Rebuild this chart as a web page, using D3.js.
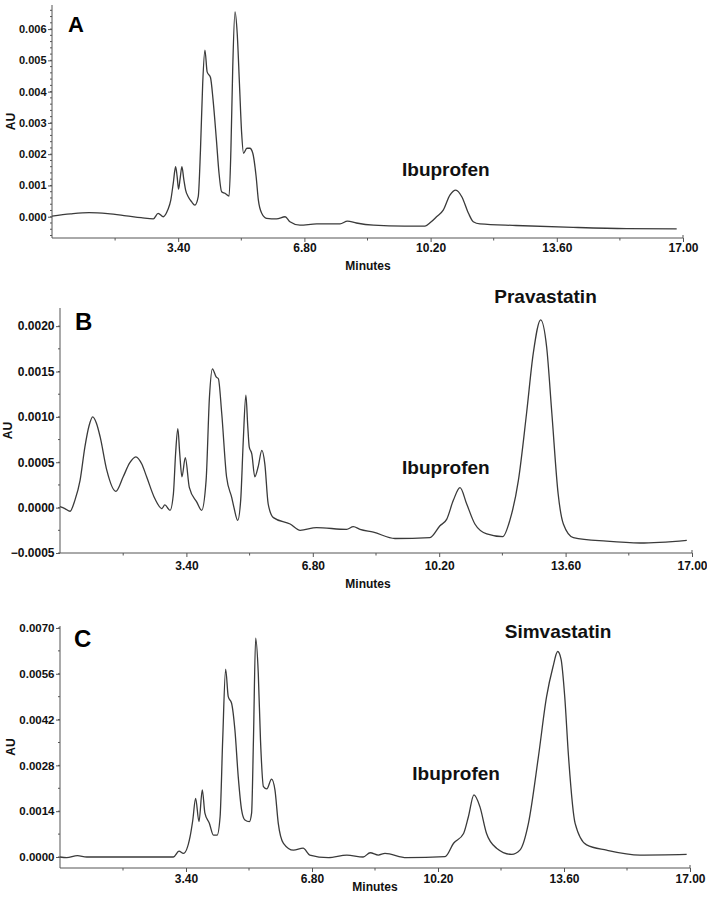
<!DOCTYPE html>
<html><head><meta charset="utf-8">
<script src="https://cdn.jsdelivr.net/npm/d3@7"></script>
<style>
body{margin:0;background:#fff;}
svg{display:block;font-family:"Liberation Sans",Arial,Helvetica,sans-serif;}
</style>
</head><body>
<svg id="chart" width="707" height="900"></svg>
<script>
// ---------- data ----------
const xTickValues = [3.4, 6.8, 10.2, 13.6, 17.0];

const minutesA = [0.0,0.5,1.0,1.5,2.0,2.4,2.73,2.86,3.0,3.12,3.2,3.27,3.33,3.37,3.41,3.45,3.5,3.55,3.6,3.67,3.76,3.85,3.94,4.0,4.06,4.12,4.18,4.27,4.34,4.43,4.5,4.57,4.66,4.77,4.82,4.87,4.93,4.99,5.05,5.11,5.16,5.25,5.33,5.41,5.5,5.56,5.65,5.78,6.05,6.28,6.41,6.68,7.13,7.76,7.96,8.2,8.66,9.5,10.05,10.2,10.36,10.54,10.72,10.88,11.04,11.22,11.35,11.53,12.5,14.04,15.48,16.83];
const auA = [0.00002,0.00009,0.00013,0.0001,0.00003,-0.00003,-0.00007,0.00011,0.0,0.00022,0.00053,0.0011,0.0016,0.0013,0.00088,0.0012,0.0016,0.0012,0.00085,0.00064,0.00048,0.00037,0.00064,0.00213,0.00426,0.00533,0.00463,0.00445,0.00373,0.00245,0.00139,0.0008,0.00075,0.00066,0.00213,0.0048,0.00655,0.00586,0.00426,0.00266,0.00203,0.00219,0.00219,0.00203,0.00128,0.00053,0.00011,-0.00005,-0.00007,0.0,-0.00016,-0.00027,-0.00023,-0.00023,-0.00014,-0.0002,-0.00027,-0.0003,-0.0003,-0.00018,0.0,0.00021,0.00069,0.00085,0.00064,0.00011,-0.00016,-0.00023,-0.00028,-0.00034,-0.00038,-0.00039];
const yTicksA = [0,0.001,0.002,0.003,0.004,0.005,0.006];
const annotA = [{text:"Ibuprofen", t:10.61, v:0.0013}];

const minutesB = [0,0.13,0.27,0.4,0.54,0.67,0.78,0.88,0.98,1.08,1.26,1.5,1.7,1.87,2.04,2.2,2.33,2.55,2.74,2.82,2.96,3.05,3.11,3.17,3.22,3.28,3.37,3.48,3.68,3.81,3.93,4.02,4.1,4.2,4.26,4.35,4.48,4.62,4.68,4.78,4.86,4.93,5.0,5.05,5.09,5.16,5.24,5.33,5.43,5.51,5.6,5.74,6.19,6.46,6.9,7.71,7.89,8.07,8.43,9.01,9.95,10.22,10.4,10.58,10.76,10.94,11.16,11.48,11.91,12.1,12.33,12.55,12.73,12.93,13.09,13.23,13.4,13.54,13.81,14.7,15.6,16.86];
const auB = [0.00001,-0.00001,-0.00004,0.00008,0.0003,0.00067,0.0009,0.001,0.00093,0.00078,0.00041,0.00018,0.00034,0.00049,0.00056,0.00048,0.00034,0.0001,-0.00001,0.00003,-0.00003,0.00015,0.0006,0.00087,0.0006,0.00034,0.00055,0.00022,0.00006,-0.00003,0.0003,0.00122,0.00153,0.00144,0.00142,0.00104,0.00034,0.00011,0.0,-0.00014,0.00008,0.00074,0.00124,0.0009,0.00067,0.00059,0.00034,0.00045,0.00063,0.00048,0.00004,-0.00011,-0.00018,-0.00025,-0.00022,-0.00024,-0.00021,-0.00024,-0.00027,-0.00034,-0.00033,-0.0002,-0.00013,0.00008,0.00022,0.00004,-0.00018,-0.00029,-0.00032,-0.00014,0.0003,0.00104,0.0017,0.00207,0.00177,0.00104,0.00015,-0.00018,-0.00033,-0.00037,-0.00039,-0.00036];
const yTicksB = [-0.0005,0,0.0005,0.001,0.0015,0.002];
const annotB = [{text:"Pravastatin", t:13.06, v:0.002257},{text:"Ibuprofen", t:10.38, v:0.000376}];

const minutesC = [0,0.18,0.47,0.72,1.5,2.5,3.06,3.21,3.33,3.51,3.58,3.66,3.75,3.84,3.91,4.03,4.14,4.24,4.32,4.39,4.47,4.54,4.63,4.72,4.81,4.9,4.99,5.11,5.17,5.22,5.28,5.35,5.41,5.49,5.58,5.71,5.8,5.89,6.03,6.3,6.56,6.74,7.24,7.74,8.18,8.37,8.59,8.77,9.35,10.39,10.62,10.89,11.02,11.17,11.33,11.51,11.78,12.19,12.41,12.64,12.91,13.13,13.3,13.43,13.52,13.62,13.72,13.9,14.21,14.75,15.65,16.91];
const auC = [0,-0.00002,0.00004,0,0,0,0.0,0.00018,0.00011,0.00062,0.0011,0.00179,0.00108,0.00205,0.00134,0.00103,0.00067,0.00067,0.00123,0.00358,0.00574,0.0049,0.0047,0.00388,0.00245,0.00144,0.00113,0.00108,0.00134,0.00358,0.00669,0.00562,0.00358,0.00215,0.00208,0.00238,0.00205,0.00103,0.00042,0.00021,0.00027,0.00006,-0.00002,0.00006,0.0,0.00013,0.00006,0.00011,-0.00002,0.00001,0.00042,0.00072,0.00123,0.0019,0.00154,0.00072,0.00027,0.00008,0.00021,0.00103,0.00307,0.0049,0.0058,0.00628,0.00605,0.0049,0.0031,0.00103,0.00037,0.00021,0.00006,0.00008];
const yTicksC = [0,0.0014,0.0028,0.0042,0.0056,0.007];
const annotC = [{text:"Simvastatin", t:13.44, v:0.006694},{text:"Ibuprofen", t:10.69, v:0.002354}];

// ---------- layout ----------
const panels = [
  {letter:"A", t:minutesA, v:auA, yTicks:yTicksA, annot:annotA,
   left:52, right:683, top:5, bottom:238, yDomain:[-0.00068,0.00677],
   yFmt:".3f", yFont:11, minorStep:0.0002, xPad:1.5,
   minutesX:368, minutesY:270, auX:15, letterX:68, letterY:32, letterSize:22},
  {letter:"B", t:minutesB, v:auB, yTicks:yTicksB, annot:annotB,
   left:60, right:692, top:308, bottom:553, yDomain:[-0.0005,0.0022],
   yFmt:".4f", yFont:12, minorStep:0.00025, xPad:4.5,
   minutesX:368, minutesY:588, auX:12, letterX:75, letterY:330, letterSize:24},
  {letter:"C", t:minutesC, v:auC, yTicks:yTicksC, annot:annotC,
   left:60, right:690, top:626, bottom:868, yDomain:[-0.000336,0.00706],
   yFmt:".4f", yFont:11.5, minorStep:0.0007, xPad:2.5,
   minutesX:375, minutesY:891, auX:15, letterX:74, letterY:647, letterSize:24}
];

const svg = d3.select("#chart");
const axisColor = "#555";

panels.forEach(p => {
  const x = d3.scaleLinear().domain([0, 17]).range([p.left, p.right]);
  const y = d3.scaleLinear().domain(p.yDomain).range([p.bottom, p.top]);
  const g = svg.append("g");

  // minor y ticks
  const yMinor = d3.range(Math.ceil(p.yDomain[0]/p.minorStep)*p.minorStep, p.yDomain[1], p.minorStep);
  g.append("g").selectAll("line").data(yMinor).join("line")
    .attr("x1", p.left - 2).attr("x2", p.left)
    .attr("y1", d => y(d)).attr("y2", d => y(d))
    .attr("stroke", axisColor).attr("stroke-width", 1);

  // minor x ticks
  const xMinor = [1.7, 5.1, 8.5, 11.9, 15.3];
  g.append("g").selectAll("line").data(xMinor).join("line")
    .attr("x1", d => x(d)).attr("x2", d => x(d))
    .attr("y1", p.bottom).attr("y2", p.bottom + 2.5)
    .attr("stroke", axisColor).attr("stroke-width", 1);

  // y axis
  const yAxis = d3.axisLeft(y).tickValues(p.yTicks).tickFormat(d3.format(p.yFmt))
    .tickSize(4).tickPadding(1.5).tickSizeOuter(0);
  const ya = g.append("g").attr("transform", `translate(${p.left},0)`).call(yAxis);
  ya.select(".domain").attr("stroke", axisColor).attr("d", `M0,${p.top}V${p.bottom}`);
  ya.selectAll(".tick line").attr("stroke", axisColor);
  ya.selectAll(".tick text").attr("font-size", p.yFont).attr("font-weight", "bold")
    .attr("fill", "#111").style("font-family", '"Liberation Sans",Arial,sans-serif');

  // x axis
  const xAxis = d3.axisBottom(x).tickValues(xTickValues).tickFormat(d3.format(".2f"))
    .tickSize(4).tickPadding(p.xPad).tickSizeOuter(0);
  const xa = g.append("g").attr("transform", `translate(0,${p.bottom})`).call(xAxis);
  xa.select(".domain").attr("stroke", axisColor).attr("d", `M${p.left},0H${p.right}`);
  xa.selectAll(".tick line").attr("stroke", axisColor);
  xa.selectAll(".tick text").attr("font-size", 12).attr("font-weight", "bold")
    .attr("fill", "#111").style("font-family", '"Liberation Sans",Arial,sans-serif');
  // small upward end tick at 17.00
  g.append("line").attr("x1", x(17)).attr("x2", x(17))
    .attr("y1", p.bottom - 3).attr("y2", p.bottom).attr("stroke", axisColor);

  // trace
  const pts = d3.zip(p.t, p.v);
  const line = d3.line().x(d => x(d[0])).y(d => y(d[1])).curve(d3.curveMonotoneX);
  g.append("path").datum(pts).attr("d", line)
    .attr("fill", "none").attr("stroke", "#3a3a3a").attr("stroke-width", 1.3)
    .attr("stroke-linejoin", "round");

  // axis titles
  g.append("text").attr("x", p.minutesX).attr("y", p.minutesY)
    .attr("text-anchor", "middle").attr("font-size", 12).attr("font-weight", "bold")
    .attr("fill", "#111").text("Minutes");
  g.append("text").attr("transform", `translate(${p.auX},${(p.top + p.bottom)/2}) rotate(-90)`)
    .attr("text-anchor", "middle").attr("font-size", 12).attr("font-weight", "bold")
    .attr("fill", "#111").text("AU");

  // panel letter
  g.append("text").attr("x", p.letterX).attr("y", p.letterY)
    .attr("font-size", p.letterSize).attr("font-weight", "bold").attr("fill", "#000")
    .text(p.letter);

  // peak annotations
  g.append("g").selectAll("text").data(p.annot).join("text")
    .attr("x", d => x(d.t)).attr("y", d => y(d.v))
    .attr("text-anchor", "middle").attr("font-size", 19).attr("font-weight", "bold")
    .attr("fill", "#111").text(d => d.text);
});
</script>
</body></html>
